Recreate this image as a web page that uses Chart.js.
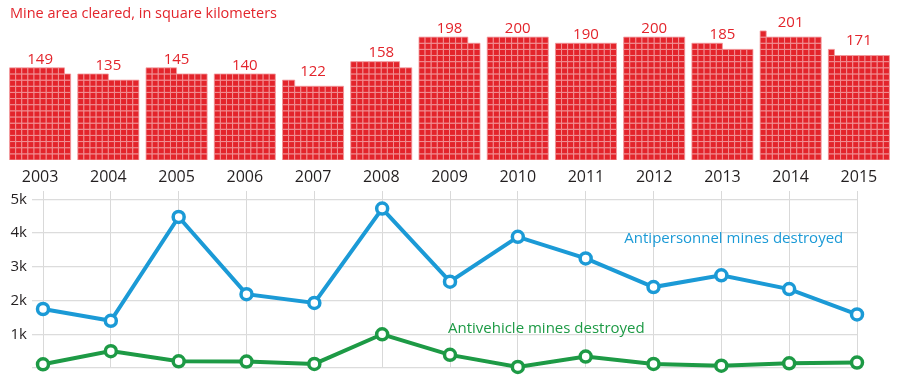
<!DOCTYPE html>
<html>
<head>
<meta charset="utf-8">
<script src="https://cdn.jsdelivr.net/npm/chart.js@4.4.1/dist/chart.umd.min.js"></script>
<style>
  html, body { margin: 0; padding: 0; background: #fff; }
  #wrap { position: relative; width: 900px; height: 377px; overflow: hidden; }
  #title { position: absolute; left: 10px; top: 3px; font: 14.5px "Open Sans", sans-serif; color: #e3242b; }
  #areaChart { position: absolute; left: 0; top: 0; }
  #minesChart { position: absolute; left: 0; top: 177px; }
</style>
</head>
<body>
<div id="wrap">
  <canvas id="areaChart" width="900" height="188"></canvas>
  <canvas id="minesChart" width="900" height="205"></canvas>
  <div id="title">Mine area cleared, in square kilometers</div>
</div>
<script>
// Data
const years = ['2003', '2004', '2005', '2006', '2007', '2008', '2009', '2010', '2011', '2012', '2013', '2014', '2015'];
const areaCleared = [149, 135, 145, 140, 122, 158, 198, 200, 190, 200, 185, 201, 171];
const antipersonnel = [1750, 1400, 4480, 2190, 1930, 4730, 2560, 3890, 3250, 2400, 2750, 2340, 1590];
const antivehicle = [110, 500, 200, 190, 120, 1000, 390, 30, 340, 120, 70, 140, 160];
const yTickValues = [0, 1000, 2000, 3000, 4000, 5000];
const yTickLabels = ['', '1k', '2k', '3k', '4k', '5k'];

const RED = '#e3242b';
const BLUE = '#1b9ad6';
const GREEN = '#1d9a45';
const FONT = '"Open Sans", sans-serif';

// one square = 1 sq km, 10 squares per row
const perRow = 10;
const colStep = 0.0895; // width of one square in year units

document.addEventListener('DOMContentLoaded', function() {
    // Waffle squares
    const squares = [];
    areaCleared.forEach((v, i) => {
        for (let k = 0; k < v; k++) {
            const col = k % perRow;
            const row = Math.floor(k / perRow);
            squares.push({ x: i + (col - 4.5) * colStep, y: row + 0.5 });
        }
    });

    const valueLabels = {
        id: 'valueLabels',
        afterDatasetsDraw(chart) {
            const { ctx, scales: { x, y } } = chart;
            ctx.save();
            ctx.font = '15px ' + FONT;
            ctx.fillStyle = RED;
            ctx.textAlign = 'center';
            ctx.textBaseline = 'bottom';
            areaCleared.forEach((v, i) => {
                const rows = Math.ceil(v / perRow);
                ctx.fillText(String(v), x.getPixelForValue(i), y.getPixelForValue(rows) - 1);
            });
            ctx.restore();
        }
    };

    new Chart(document.getElementById('areaChart'), {
        type: 'scatter',
        data: {
            datasets: [{
                data: squares,
                pointStyle: 'rect',
                pointRadius: 4.3,
                pointHoverRadius: 4.3,
                backgroundColor: RED,
                borderColor: '#f39a9e',
                borderWidth: 0.8
            }]
        },
        options: {
            responsive: false,
            animation: false,
            layout: { padding: { left: 6, right: 7, top: 1, bottom: 2 } },
            plugins: { legend: { display: false }, tooltip: { enabled: false } },
            scales: {
                x: {
                    type: 'linear',
                    min: -0.5,
                    max: 12.5,
                    grid: { display: false, drawTicks: false },
                    border: { display: false },
                    afterBuildTicks: s => { s.ticks = years.map((_, i) => ({ value: i })); },
                    afterFit: s => { s.height = 26; },
                    ticks: {
                        padding: 8,
                        color: '#231f20',
                        font: { family: FONT, size: 16 },
                        maxRotation: 0,
                        autoSkip: false,
                        callback: v => years[v]
                    }
                },
                y: {
                    display: false,
                    min: 0,
                    max: 25.2
                }
            }
        },
        plugins: [valueLabels]
    });

    // Series labels
    const seriesLabels = {
        id: 'seriesLabels',
        afterDatasetsDraw(chart) {
            const { ctx, scales: { x, y } } = chart;
            ctx.save();
            ctx.font = '15px ' + FONT;
            ctx.textAlign = 'left';
            ctx.textBaseline = 'middle';
            ctx.fillStyle = BLUE;
            ctx.fillText('Antipersonnel mines destroyed', x.getPixelForValue(8.57), y.getPixelForValue(3830));
            ctx.fillStyle = GREEN;
            ctx.fillText('Antivehicle mines destroyed', x.getPixelForValue(5.97), y.getPixelForValue(1170));
            ctx.restore();
        }
    };

    new Chart(document.getElementById('minesChart'), {
        type: 'line',
        data: {
            datasets: [
                {
                    label: 'Antipersonnel mines destroyed',
                    data: antipersonnel.map((v, i) => ({ x: i, y: v })),
                    borderColor: BLUE,
                    borderWidth: 4,
                    pointRadius: 5.5,
                    pointBorderWidth: 3.5,
                    pointBackgroundColor: '#fff',
                    pointBorderColor: BLUE,
                    tension: 0
                },
                {
                    label: 'Antivehicle mines destroyed',
                    data: antivehicle.map((v, i) => ({ x: i, y: v })),
                    borderColor: GREEN,
                    borderWidth: 4,
                    pointRadius: 5.5,
                    pointBorderWidth: 3.5,
                    pointBackgroundColor: '#fff',
                    pointBorderColor: GREEN,
                    tension: 0
                }
            ]
        },
        options: {
            responsive: false,
            animation: false,
            clip: false,
            layout: { padding: { left: 0, right: 43, top: 0, bottom: 0 } },
            plugins: { legend: { display: false }, tooltip: { enabled: false } },
            scales: {
                x: {
                    type: 'linear',
                    min: 0,
                    max: 12,
                    afterBuildTicks: s => { s.ticks = years.map((_, i) => ({ value: i })); },
                    afterFit: s => { s.height = 0; },
                    grid: { color: '#d9d9d9', lineWidth: 1, drawTicks: false },
                    border: { display: false },
                    ticks: { display: false }
                },
                y: {
                    min: 0,
                    max: 5250,
                    afterBuildTicks: s => { s.ticks = yTickValues.map(v => ({ value: v })); },
                    afterFit: s => { s.width = 43; },
                    grid: { color: '#dcdcdc', lineWidth: 1.3, tickLength: 11 },
                    border: { display: false },
                    ticks: {
                        padding: 5,
                        color: '#231f20',
                        font: { family: FONT, size: 15 },
                        callback: (v) => yTickLabels[yTickValues.indexOf(v)]
                    }
                }
            }
        },
        plugins: [seriesLabels]
    });
});
</script>
</body>
</html>
